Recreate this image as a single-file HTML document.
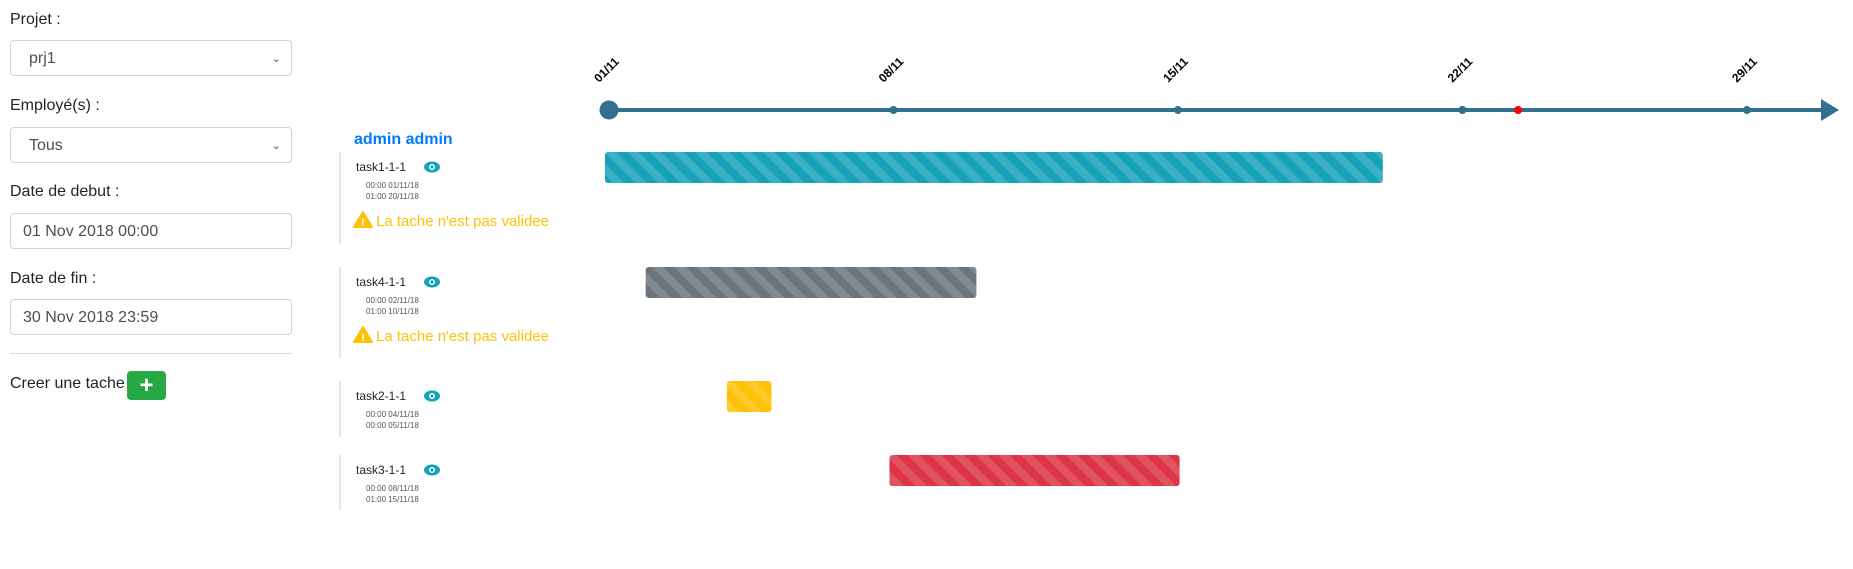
<!DOCTYPE html>
<html><head><meta charset="utf-8"><style>
body{margin:0;width:1853px;height:569px;background:#fff;font-family:"Liberation Sans",sans-serif;color:#212529;position:relative;overflow:hidden}
.lbl{position:absolute;left:10px;font-size:16px}
.ctl{position:absolute;left:10px;width:282px;height:36px;border:1px solid #ced4da;border-radius:4px;font-size:16px;line-height:36px;padding-left:12px;box-sizing:border-box;color:#495057}
.sel{padding-left:18px}
.chev{position:absolute;right:10px;top:0;font-size:11px;color:#555}
svg{position:absolute;left:0;top:0}
</style></head><body>
<div class="lbl" style="top:11px">Projet :</div>
<div class="ctl sel" style="top:40px">prj1<span class="chev">&#8964;</span></div>
<div class="lbl" style="top:97px">Employé(s) :</div>
<div class="ctl sel" style="top:127px">Tous<span class="chev">&#8964;</span></div>
<div class="lbl" style="top:183px">Date de debut :</div>
<div class="ctl" style="top:213px">01 Nov 2018 00:00</div>
<div class="lbl" style="top:270px">Date de fin :</div>
<div class="ctl" style="top:299px">30 Nov 2018 23:59</div>
<div style="position:absolute;left:10px;width:282px;top:353px;border-top:1px solid #ddd"></div>
<div class="lbl" style="top:375px">Creer une tache</div>
<div style="position:absolute;left:127px;top:371px;width:39px;height:29px;background:#28a745;border-radius:4px;color:#fff;font-size:24px;font-weight:bold;text-align:center;line-height:29px">+</div>
<div style="position:absolute;left:354px;top:131px;font-size:16px;font-weight:bold;color:#007bff">admin admin</div>
<svg id="chart" width="1853" height="569">
<defs>
<pattern id="stripe" patternUnits="userSpaceOnUse" width="16" height="16" patternTransform="rotate(-45)"><rect width="8" height="16" fill="rgba(255,255,255,0.15)"/></pattern>
</defs>
</svg>
<script>
const tickLabels=["01/11","08/11","15/11","22/11","29/11"];
const tickDays=[0,7,14,21,28];
const taskNames=["task1-1-1","task4-1-1","task2-1-1","task3-1-1"];
const taskStart=[0,1,3,7];
const taskEnd=[19.04,9.04,4,14.04];
const startLabels=["00:00 01/11/18","00:00 02/11/18","00:00 04/11/18","00:00 08/11/18"];
const endLabels=["01:00 20/11/18","01:00 10/11/18","00:00 05/11/18","01:00 15/11/18"];
const taskColors=["#17a2b8","#6c757d","#ffc107","#dc3545"];
const taskWarn=[true,true,false,false];
const todayDay=22.37;
const rowTop=[152,267,381,455];
const NS="http://www.w3.org/2000/svg";
const svg=document.getElementById('chart');
const x=d=>609+d*40.64;
const AY=110;
function mk(t,a,p){const e=document.createElementNS(NS,t);for(const k in a)e.setAttribute(k,a[k]);(p||svg).appendChild(e);return e;}
const line=mk('line',{x1:x(0),y1:AY,x2:1824,y2:AY,stroke:'#31708f','stroke-width':4});


const arr=mk('polygon',{points:`1821,${AY-11} 1839,${AY} 1821,${AY+11}`,fill:'#31708f'});


const sd=mk('circle',{cx:x(0),cy:AY,r:9.5,fill:'#31708f'});


tickDays.forEach((d,i)=>{
 const c=mk('circle',{cx:x(d),cy:AY,r:4,fill:'#31708f'});
 
 
 const t=mk('text',{x:x(d)-10,y:AY-27,transform:`rotate(-45 ${x(d)-10} ${AY-27})`,'font-size':12,'font-weight':'bold','font-family':'Liberation Sans, sans-serif'});
 t.textContent=tickLabels[i];
 
 
});
const td=mk('circle',{cx:x(todayDay),cy:AY,r:4,fill:'#ff0000'});


taskNames.forEach((n,i)=>{
 const y0=rowTop[i];
 const h=taskWarn[i]?92:56;
 const vl=mk('line',{x1:340,y1:y0,x2:340,y2:y0+h,stroke:'#ccc','stroke-width':1});
 
 
 const tl=mk('text',{x:356,y:y0+19,'font-size':12,fill:'#212529'});
 tl.textContent=n;
 
 
 const g=mk('g',{});
 
 
 mk('ellipse',{cx:432,cy:y0+15,rx:8,ry:5.5,fill:'#17a2b8'},g);
 mk('circle',{cx:432,cy:y0+15,r:3,fill:'#fff'},g);
 mk('circle',{cx:432,cy:y0+15,r:1.6,fill:'#17a2b8'},g);
 const s1=mk('text',{x:366,y:y0+36,'font-size':8,fill:'#555'});
 s1.textContent=startLabels[i];
 
 
 const s2=mk('text',{x:366,y:y0+47,'font-size':8,fill:'#555'});
 s2.textContent=endLabels[i];
 
 
 if(taskWarn[i]){
  const wg=mk('g',{});
  
  
  mk('polygon',{points:`363,${y0+60} 372,${y0+75} 354,${y0+75}`,fill:'#ffc107','stroke':'#ffc107','stroke-linejoin':'round','stroke-width':2},wg);
  const ex=mk('text',{x:363,y:y0+74,'font-size':11,'font-weight':'bold',fill:'#fff','text-anchor':'middle'},wg);ex.textContent='!';
  const wt=mk('text',{x:376,y:y0+74,'font-size':15,fill:'#ffc107'},wg);wt.textContent="La tache n'est pas validee";
 }
 const bx=x(taskStart[i])-4, bw=x(taskEnd[i])-x(taskStart[i])+4;
 const b=mk('rect',{x:bx,y:y0,width:bw,height:31,rx:3,fill:taskColors[i]});
 
 
 const bs=mk('rect',{x:bx,y:y0,width:bw,height:31,rx:3,fill:'url(#stripe)'});
 
 
});
</script>
</body></html>
